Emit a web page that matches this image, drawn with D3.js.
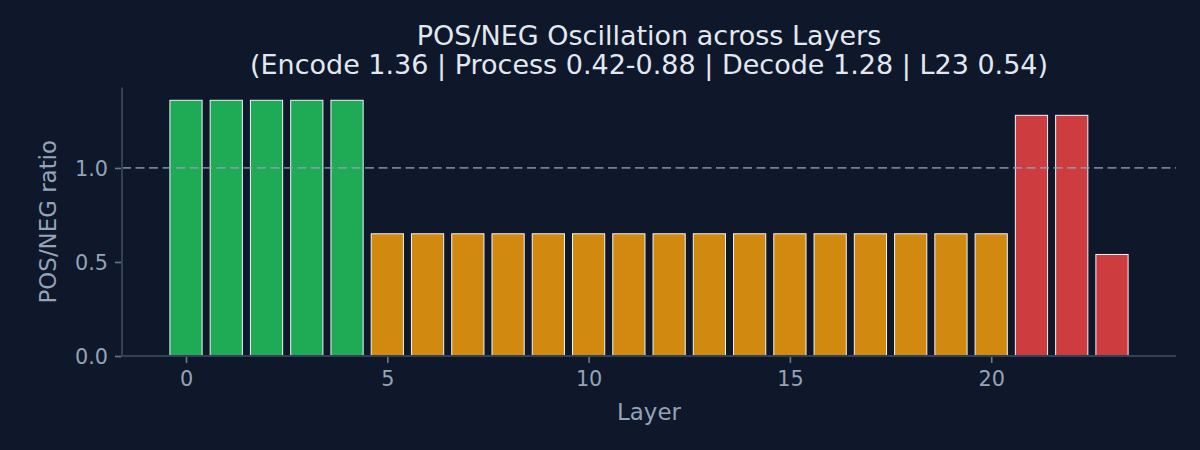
<!DOCTYPE html>
<html>
<head>
<meta charset="utf-8">
<script src="https://cdn.jsdelivr.net/npm/d3@7"></script>
<style>
  body { margin: 0; background: #0f172a; }
  svg { display: block; font-family: "DejaVu Sans", sans-serif; }
</style>
</head>
<body>
<div id="chart"></div>
<script>
// Data
const layers = [0, 1, 2, 3, 4, 5, 6, 7, 8, 9, 10, 11, 12, 13, 14, 15, 16, 17, 18, 19, 20, 21, 22, 23];
const ratios = [1.36, 1.36, 1.36, 1.36, 1.36,
  0.65, 0.65, 0.65, 0.65, 0.65, 0.65, 0.65, 0.65, 0.65, 0.65, 0.65, 0.65, 0.65, 0.65, 0.65, 0.65,
  1.28, 1.28, 0.54];
const phases = ["encode", "encode", "encode", "encode", "encode",
  "process", "process", "process", "process", "process", "process", "process", "process",
  "process", "process", "process", "process", "process", "process", "process", "process",
  "decode", "decode", "decode"];
const xTicks = [0, 5, 10, 15, 20];
const yTicks = [0, 0.5, 1.0];
const refLine = 1.0;
const titleLines = ["POS/NEG Oscillation across Layers",
  "(Encode 1.36 | Process 0.42-0.88 | Decode 1.28 | L23 0.54)"];

const phaseColor = {encode: "#22c55e", process: "#f59e0b", decode: "#ef4444"};

// Canvas
const svgWidth = 1200;
const svgHeight = 450;
const margin = {top: 87.5, right: 24, bottom: 94, left: 122};
const width = svgWidth - margin.left - margin.right;
const height = svgHeight - margin.top - margin.bottom;

const svg = d3.select("#chart")
  .append("svg")
  .attr("width", svgWidth)
  .attr("height", svgHeight);

svg.append("rect")
  .attr("width", svgWidth)
  .attr("height", svgHeight)
  .attr("fill", "#0f172a");

const chartGroup = svg.append("g")
  .attr("transform", `translate(${margin.left}, ${margin.top})`);

// Scales (matplotlib-like 5% margins around the bars)
const barW = 0.8;
const xMin = layers[0] - barW / 2;
const xMax = layers[layers.length - 1] + barW / 2;
const pad = (xMax - xMin) * 0.05;
const xScale = d3.scaleLinear()
  .domain([xMin - pad, xMax + pad])
  .range([0, width]);

const yScale = d3.scaleLinear()
  .domain([0, d3.max(ratios) * 1.05])
  .range([height, 0]);

// Bars
chartGroup.selectAll("rect.bar")
  .data(layers)
  .enter()
  .append("rect")
  .attr("class", "bar")
  .attr("x", (d, i) => xScale(d - barW / 2))
  .attr("width", xScale(barW) - xScale(0))
  .attr("y", (d, i) => yScale(ratios[i]))
  .attr("height", (d, i) => yScale(0) - yScale(ratios[i]))
  .attr("fill", (d, i) => phaseColor[phases[i]])
  .attr("fill-opacity", 0.85)
  .attr("stroke", "#f1f5f9")
  .attr("stroke-width", 1);

// Reference line
chartGroup.append("line")
  .attr("x1", 0)
  .attr("x2", width)
  .attr("y1", yScale(refLine))
  .attr("y2", yScale(refLine))
  .attr("stroke", "#94a3b8")
  .attr("stroke-opacity", 0.75)
  .attr("stroke-width", 1.8)
  .attr("stroke-dasharray", "9,4.5");

// Axes
const xAxis = d3.axisBottom(xScale)
  .tickValues(xTicks)
  .tickFormat(d3.format("d"))
  .tickSize(7)
  .tickPadding(7);

const yAxis = d3.axisLeft(yScale)
  .tickValues(yTicks)
  .tickFormat(d3.format(".1f"))
  .tickSize(7)
  .tickPadding(7);

const gx = chartGroup.append("g")
  .attr("transform", `translate(0, ${height})`)
  .call(xAxis);

const gy = chartGroup.append("g")
  .call(yAxis);

[gx, gy].forEach(g => {
  g.select(".domain").remove();
  g.selectAll(".tick line").attr("stroke", "#64748b").attr("stroke-width", 1.7);
  g.selectAll(".tick text")
    .attr("fill", "#94a3b8")
    .attr("font-size", 20.8)
    .attr("font-family", "DejaVu Sans");
});
gx.selectAll(".tick text").attr("dy", "0.76em");
gy.selectAll(".tick text").attr("dy", "0.35em");

// Spines
chartGroup.append("line")
  .attr("x1", 0).attr("x2", 0)
  .attr("y1", yScale(yScale.domain()[1])).attr("y2", height + 1)
  .attr("stroke", "#334155").attr("stroke-width", 2);
chartGroup.append("line")
  .attr("x1", -1).attr("x2", width)
  .attr("y1", height).attr("y2", height)
  .attr("stroke", "#334155").attr("stroke-width", 2);

// Axis labels
chartGroup.append("text")
  .attr("x", width / 2)
  .attr("y", height + 64)
  .attr("text-anchor", "middle")
  .attr("fill", "#94a3b8")
  .attr("font-size", 22.9)
  .text("Layer");

chartGroup.append("text")
  .attr("transform", `translate(${55.5 - margin.left}, ${height / 2}) rotate(-90)`)
  .attr("text-anchor", "middle")
  .attr("fill", "#94a3b8")
  .attr("font-size", 22.9)
  .text("POS/NEG ratio");

// Title
const title = svg.append("text")
  .attr("text-anchor", "middle")
  .attr("fill", "#e2e8f0")
  .attr("font-size", 27);

titleLines.forEach((line, i) => {
  title.append("tspan")
    .attr("x", margin.left + width / 2)
    .attr("y", 45 + i * 29)
    .text(line);
});
</script>
</body>
</html>
